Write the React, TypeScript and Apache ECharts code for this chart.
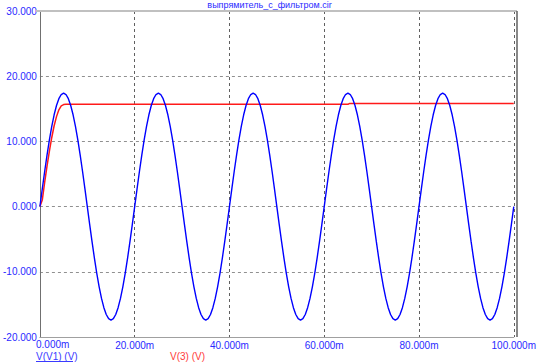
import React, { useEffect, useRef } from "react";
import * as echarts from "echarts";

const title = "выпрямитель_с_фильтром.cir";
const legendV1 = "V(V1) (V)";
const legendV3 = "V(3) (V)";

// time step 0.5 ms, 0..100 ms
const timeStepMs = 0.5;
// V(V1) (amplitude ~17.4 V, 50 Hz)
const v1Values: number[] = [
  0, 2.72, 5.38, 7.9, 10.23, 12.3, 14.08, 15.5, 16.55, 17.19, 17.4, 17.19, 16.55, 15.5, 14.08, 12.3, 10.23, 7.9, 5.38, 2.72,
  0, -2.72, -5.38, -7.9, -10.23, -12.3, -14.08, -15.5, -16.55, -17.19, -17.4, -17.19, -16.55, -15.5, -14.08, -12.3, -10.23, -7.9, -5.38, -2.72,
  0, 2.72, 5.38, 7.9, 10.23, 12.3, 14.08, 15.5, 16.55, 17.19, 17.4, 17.19, 16.55, 15.5, 14.08, 12.3, 10.23, 7.9, 5.38, 2.72,
  0, -2.72, -5.38, -7.9, -10.23, -12.3, -14.08, -15.5, -16.55, -17.19, -17.4, -17.19, -16.55, -15.5, -14.08, -12.3, -10.23, -7.9, -5.38, -2.72,
  0, 2.72, 5.38, 7.9, 10.23, 12.3, 14.08, 15.5, 16.55, 17.19, 17.4, 17.19, 16.55, 15.5, 14.08, 12.3, 10.23, 7.9, 5.38, 2.72,
  0, -2.72, -5.38, -7.9, -10.23, -12.3, -14.08, -15.5, -16.55, -17.19, -17.4, -17.19, -16.55, -15.5, -14.08, -12.3, -10.23, -7.9, -5.38, -2.72,
  0, 2.72, 5.38, 7.9, 10.23, 12.3, 14.08, 15.5, 16.55, 17.19, 17.4, 17.19, 16.55, 15.5, 14.08, 12.3, 10.23, 7.9, 5.38, 2.72,
  0, -2.72, -5.38, -7.9, -10.23, -12.3, -14.08, -15.5, -16.55, -17.19, -17.4, -17.19, -16.55, -15.5, -14.08, -12.3, -10.23, -7.9, -5.38, -2.72,
  0, 2.72, 5.38, 7.9, 10.23, 12.3, 14.08, 15.5, 16.55, 17.19, 17.4, 17.19, 16.55, 15.5, 14.08, 12.3, 10.23, 7.9, 5.38, 2.72,
  0, -2.72, -5.38, -7.9, -10.23, -12.3, -14.08, -15.5, -16.55, -17.19, -17.4, -17.19, -16.55, -15.5, -14.08, -12.3, -10.23, -7.9, -5.38, -2.72,
  0,
];

// V(3) filter output: times (ms) and values (V)
const v3Times: number[] = [0, 0.5, 1.0, 1.5, 2.0, 2.5, 3.0, 3.5, 4.0, 4.5, 5.0, 5.5, 65.0, 65.3, 100];
const v3Values: number[] = [0, 1.0, 3.7, 6.2, 8.5, 10.6, 12.4, 13.8, 14.85, 15.45, 15.65, 15.7, 15.7, 15.8, 15.8];

const xTicks = [0, 20, 40, 60, 80, 100];
const yTicks = [-20, -10, 0, 10, 20, 30];

export default function App() {
  const ref = useRef<HTMLDivElement>(null);
  useEffect(() => {
    if (!ref.current) return;
    const chart = echarts.init(ref.current, null, { renderer: "svg" });
    const v1Data = v1Values.map((v, i) => [i * timeStepMs, v]);
    const v3Data = v3Times.map((t, i) => [t, v3Values[i]]);
    const labelColor = "#2a2aff";
    const font = "Arial, 'Liberation Sans', sans-serif";
    const fmtX = (v: number) => v.toFixed(3) + "m";
    chart.setOption({
      animation: false,
      backgroundColor: "#ffffff",
      grid: { left: 36, right: 22, top: 11, bottom: 26, show: false },
      xAxis: {
        type: "value",
        min: xTicks[0],
        max: xTicks[xTicks.length - 1],
        interval: 20,
        axisLine: { show: true, onZero: false, lineStyle: { color: "#a0a0a0", width: 1 } },
        axisTick: { show: false },
        axisLabel: {
          color: labelColor,
          fontFamily: font,
          fontSize: 10,
          margin: 3,
          showMinLabel: false,
          formatter: fmtX,
        },
        splitLine: { show: true, lineStyle: { color: "#606060", type: [3, 3], width: 1 } },
      },
      yAxis: {
        type: "value",
        min: yTicks[0],
        max: yTicks[yTicks.length - 1],
        interval: 10,
        axisLine: { show: true, onZero: false, lineStyle: { color: "#707070", width: 1 } },
        axisTick: { show: false },
        axisLabel: {
          color: labelColor,
          fontFamily: font,
          fontSize: 10,
          margin: 3,
          formatter: (v: number) => v.toFixed(3),
        },
        splitLine: { show: true, lineStyle: { color: "#909090", type: [3, 3], width: 1 } },
      },
      graphic: [
        { type: "line", shape: { x1: 36, y1: 11, x2: 517, y2: 11 }, style: { stroke: "#c0c0c0", lineWidth: 2 }, z: 10 },
        { type: "line", shape: { x1: 517, y1: 11, x2: 517, y2: 337 }, style: { stroke: "#606060", lineWidth: 1.5 }, z: 10 },
        {
          type: "text",
          x: 269.5,
          y: 0,
          style: { text: title, fill: "#2a2aff", font: `9px ${font}`, align: "center", verticalAlign: "top" },
          z: 20,
        },
        {
          type: "text",
          x: 36,
          y: 339,
          style: { text: fmtX(xTicks[0]), fill: labelColor, font: `10px ${font}`, align: "left", verticalAlign: "top" },
        },
        {
          type: "text",
          x: 36,
          y: 351,
          style: { text: legendV1, fill: "#3a3aff", font: `10px ${font}` },
        },
        { type: "line", shape: { x1: 36, y1: 361.5, x2: 73, y2: 361.5 }, style: { stroke: "#3a3aff", lineWidth: 1 } },
        {
          type: "text",
          x: 170,
          y: 351,
          style: { text: legendV3, fill: "#ff3a3a", font: `10px ${font}` },
        },
      ],
      series: [
        {
          name: "V(3)",
          type: "line",
          data: v3Data,
          showSymbol: false,
          lineStyle: { color: "#ff1a1a", width: 1.5 },
          z: 2,
        },
        {
          name: "V(V1)",
          type: "line",
          data: v1Data,
          showSymbol: false,
          lineStyle: { color: "#0000ff", width: 1.4 },
          z: 3,
        },
      ],
    });
    return () => chart.dispose();
  }, []);
  return <div ref={ref} style={{ width: 539, height: 363, position: "absolute", left: 0, top: 0 }} />;
}
